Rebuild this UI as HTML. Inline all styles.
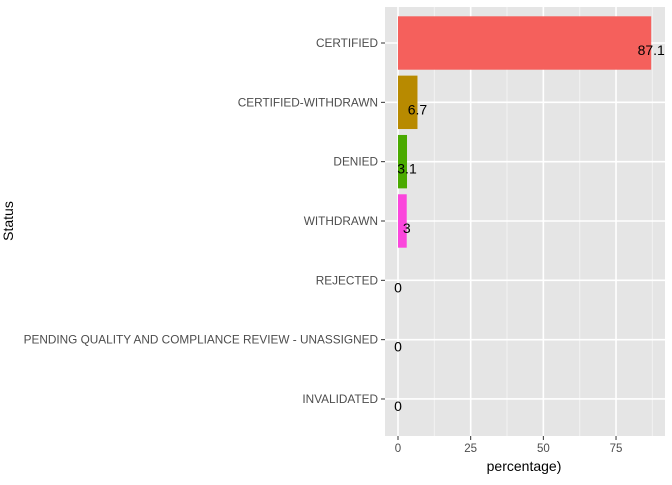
<!DOCTYPE html>
<html><head><meta charset="utf-8"><style>
body{margin:0;background:#fff;font-family:"Liberation Sans",sans-serif}
</style></head><body>
<svg id="chart" width="672" height="480" xmlns="http://www.w3.org/2000/svg">
<rect x="385" y="7" width="280" height="429" fill="#e5e5e5"/>
<g id="grid"></g><g id="bars"></g><g id="axes"></g>
<text x="13" y="221" transform="rotate(-90 13 221)" text-anchor="middle" font-size="14" fill="#000">Status</text>
<text x="524" y="471" text-anchor="middle" font-size="14" fill="#000">percentage)</text>
</svg>
<script>
const categories=["CERTIFIED","CERTIFIED-WITHDRAWN","DENIED","WITHDRAWN","REJECTED","PENDING QUALITY AND COMPLIANCE REVIEW - UNASSIGNED","INVALIDATED"];
const values=[87.1,6.7,3.1,3,0,0,0];
const labels=["87.1","6.7","3.1","3","0","0","0"];
const barColors=["#f5605c","#b88a00","#4aaa00","#fb46dc","#619cff","#f564e3","#f564e3"];
const xTicks=[0,25,50,75];
const NS="http://www.w3.org/2000/svg";
const x0=398,pxPer=2.907,top0=43,step=59.33,bh=53.4;
const X=v=>x0+v*pxPer, Y=i=>top0+i*step;
function mk(tag,attrs,parent){const e=document.createElementNS(NS,tag);for(const k in attrs)e.setAttribute(k,attrs[k]);parent.appendChild(e);return e;}
const grid=document.getElementById('grid'),bars=document.getElementById('bars'),axes=document.getElementById('axes');
for(let i=0;i<xTicks.length;i++){
 const m=xTicks[i]+12.5;
 const g1=mk('line',{x1:X(m),x2:X(m),y1:7,y2:436,stroke:'#f2f2f2','stroke-width':1},grid);
 
 
 const g=mk('line',{x1:X(xTicks[i]),x2:X(xTicks[i]),y1:7,y2:436,stroke:'#fff','stroke-width':1.6},grid);
 
 
 const t=mk('line',{x1:X(xTicks[i]),x2:X(xTicks[i]),y1:436,y2:440,stroke:'#333','stroke-width':1},axes);
 
 
 const tl=mk('text',{x:X(xTicks[i]),y:452,'text-anchor':'middle','font-size':11.5,fill:'#4d4d4d'},axes);
 tl.textContent=xTicks[i];
 
 
}
for(let i=0;i<categories.length;i++){
 const y=Y(i);
 const gl=mk('line',{x1:385,x2:665,y1:y,y2:y,stroke:'#fff','stroke-width':1.6},grid);
 
 
 if(values[i]>0){
  const r=mk('rect',{x:X(0),y:y-bh/2,width:X(values[i])-X(0),height:bh,fill:barColors[i]},bars);
  
  
 }
 const lb=mk('text',{x:X(values[i]),y:y+12,'text-anchor':'middle','font-size':14,fill:'#000'},bars);
 lb.textContent=labels[i];
 
 
 const tk=mk('line',{x1:381,x2:385,y1:y,y2:y,stroke:'#333','stroke-width':1},axes);
 
 
 const c=mk('text',{x:378,y:y+4,'text-anchor':'end','font-size':11.8,fill:'#4d4d4d'},axes);
 c.textContent=categories[i];
 
 
}
</script>
</body></html>
